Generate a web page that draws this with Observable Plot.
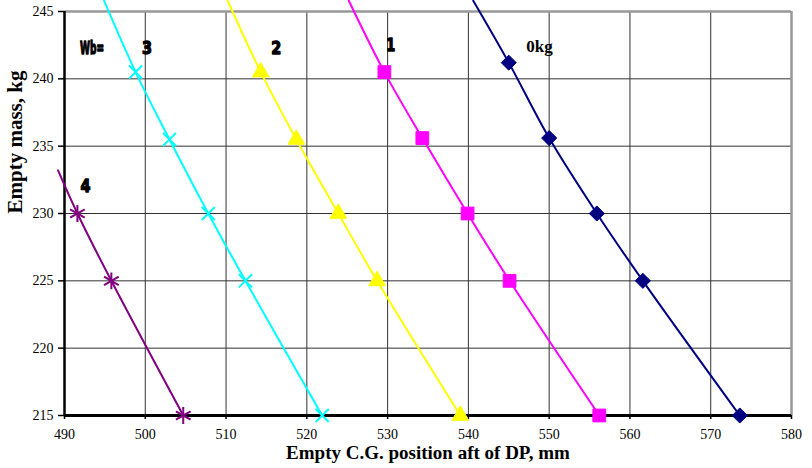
<!DOCTYPE html>
<html><head><meta charset="utf-8">
<script src="https://cdn.jsdelivr.net/npm/d3@7"></script>
<script src="https://cdn.jsdelivr.net/npm/@observablehq/plot@0.6"></script>
<style>body{margin:0;background:#fff}</style>
</head><body><div id="chart"></div>
<script>
// Series: Wb (baggage) values and their colours / markers
const seriesNames = ["0kg", "1", "2", "3", "4"];
const seriesColors = ["#000080", "#FF00FF", "#FFFF00", "#00FFFF", "#800080"];
const seriesSymbols = ["diamond2", "square", "triangle", "times", "asterisk"];

// Marker points (Empty C.G. position, mm ; Empty mass, kg)
const cg0 = [545.0, 550.0, 555.9, 561.6, 573.6];
const mass0 = [241.2, 235.6, 230, 225, 215];
const cg1 = [529.6, 534.3, 539.9, 545.1, 556.2];
const mass1 = [240.5, 235.6, 230, 225, 215];
const cg2 = [514.3, 518.7, 523.9, 528.7, 539.0];
const mass2 = [240.5, 235.5, 230, 225, 215];
const cg3 = [498.8, 503.0, 507.8, 512.4, 521.9];
const mass3 = [240.5, 235.5, 230, 225, 215];
const cg4 = [491.6, 495.8, 504.7];
const mass4 = [230, 225, 215];

// Visible upper ends of each curve (no marker)
const endCG = [540.6, 525.2, 510.2, 494.9, 489.2];
const endMass = [245.8, 245.8, 245.8, 245.8, 233.2];

// Inline labels
const labelTexts = ["Wb=", "3", "2", "1", "4"];
const labelCG = [493.4, 500.2, 516.2, 530.4, 492.6];
const labelMass = [242.3, 242.3, 242.3, 242.5, 232.0];
const kgLabel = ["0kg"];
const kgLabelCG = [548.8];
const kgLabelMass = [242.4];

const xTicks = d3.range(490, 581, 10);
const yTicks = d3.range(215, 246, 5);

const cgs = [cg0, cg1, cg2, cg3, cg4];
const masses = [mass0, mass1, mass2, mass3, mass4];

const points = [];
const linePts = [];
seriesNames.forEach((s, i) => {
  linePts.push({s, cg: endCG[i], mass: endMass[i]});
  cgs[i].forEach((c, j) => {
    points.push({s, cg: c, mass: masses[i][j]});
    linePts.push({s, cg: c, mass: masses[i][j]});
  });
});
const labels = labelTexts.map((t, i) => ({t, cg: labelCG[i], mass: labelMass[i]}));
const kgLabels = kgLabel.map((t, i) => ({t, cg: kgLabelCG[i], mass: kgLabelMass[i]}));

const serif = "'Liberation Serif', 'Times New Roman', serif";

const marks = [
  Plot.gridX(xTicks, {stroke: "#333", strokeOpacity: 1, strokeWidth: 1}),
  Plot.gridY(yTicks, {stroke: "#333", strokeOpacity: 1, strokeWidth: 1}),
  Plot.ruleY([245], {stroke: "#999", strokeWidth: 2.5}),
  Plot.ruleX([580], {stroke: "#999", strokeWidth: 2.5}),
  Plot.axisY({ticks: yTicks, tickSize: 6, tickPadding: 5, label: null, strokeWidth: 1.5}),
  Plot.axisX({ticks: xTicks, tickSize: 4, tickPadding: 10, label: null, strokeWidth: 1.5}),
  Plot.ruleX([490], {stroke: "#000", strokeWidth: 2.5}),
  Plot.ruleY([215], {stroke: "#000", strokeWidth: 3}),
];
seriesNames.forEach((s, i) => {
  const lp = linePts.filter(d => d.s === s);
  marks.push(Plot.line(lp, {x: "cg", y: "mass", stroke: seriesColors[i], strokeWidth: 2, curve: "catmull-rom", clip: false}));
});
seriesNames.forEach((s, i) => {
  const pts = points.filter(d => d.s === s);
  const sym = seriesSymbols[i];
  const filled = sym === "diamond2" || sym === "square" || sym === "triangle";
  const r = sym === "diamond2" ? 6.8 : sym === "square" ? 7.2 : sym === "triangle" ? 6.2 : sym === "asterisk" ? 8 : 6;
  marks.push(Plot.dot(pts, {x: "cg", y: "mass", symbol: () => sym, r,
    fill: filled ? seriesColors[i] : "none", stroke: seriesColors[i], strokeWidth: filled ? 1 : 2}));
});
marks.push(Plot.text(labels, {x: "cg", y: "mass", text: "t", fontSize: 18, fontWeight: "bold",
  fontFamily: "'DejaVu Sans', 'Liberation Sans', sans-serif",
  fill: "#000", stroke: "#000", strokeWidth: 1.4}));
marks.push(Plot.text(kgLabels, {x: "cg", y: "mass", text: "t", fontSize: 17, fontWeight: "bold",
  fontFamily: serif, fill: "#000"}));
marks.push(Plot.text(["Empty C.G. position aft of DP, mm"], {frameAnchor: "bottom", dy: 43, fontSize: 19,
  fontWeight: "bold", fontFamily: serif, fill: "#000"}));
marks.push(Plot.text(["Empty mass, kg"], {frameAnchor: "left", dx: -49, rotate: -90, fontSize: 21,
  fontWeight: "bold", fontFamily: serif, fill: "#000"}));

const chart = Plot.plot({
  width: 812, height: 468,
  marginLeft: 64, marginRight: 21, marginTop: 11, marginBottom: 53,
  x: {domain: [490, 580]},
  y: {domain: [215, 245]},
  style: {background: "#fff", color: "#000", overflow: "visible"},
  marks
});
document.getElementById("chart").appendChild(chart);
// tick label font: style every tick text directly
const tickStrings = new Set([...xTicks, ...yTicks].map(String));
d3.select(chart).selectAll("text").each(function() {
  const inTextMark = this.closest('g[aria-label="text"]');
  if (!inTextMark && tickStrings.has(this.textContent.trim())) {
    d3.select(this).style("font-family", serif).style("font-size", "14px").attr("font-size", 14);
  }
});
// compress the heavy inline labels (narrow, smeared look of the original)
const widths = {"Wb=": 24, "3": 10, "2": 10, "1": 9, "4": 10};
d3.select(chart).selectAll("text").each(function() {
  const t = this.textContent;
  if (this.closest('g[aria-label="text"]') && widths[t] !== undefined) {
    d3.select(this).attr("textLength", widths[t]).attr("lengthAdjust", "spacingAndGlyphs");
  }
});
</script>
</body></html>
